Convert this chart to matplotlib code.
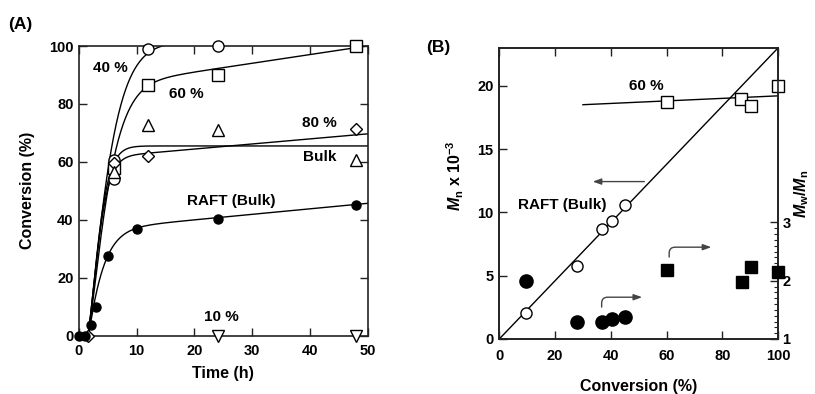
import numpy as np
import matplotlib
matplotlib.use("Agg")
import matplotlib.pyplot as plt
from matplotlib.ticker import MultipleLocator

plt.rcParams['font.family'] = ['Liberation Sans', 'DejaVu Sans']
plt.rcParams['font.weight'] = 'bold'
plt.rcParams['axes.labelweight'] = 'bold'
plt.rcParams['mathtext.fontset'] = 'custom'
plt.rcParams['mathtext.it'] = 'Liberation Sans:italic:bold'
plt.rcParams['mathtext.rm'] = 'Liberation Sans:bold'

# ---------------- Panel A data: conversion (%) vs time (h) ----------------
t_40 = [6, 12, 24]
c_40 = [54, 98.9, 100]
t_40b = [6]
c_40b = [60.5]
t_60 = [6, 12, 24, 48]
c_60 = [58, 86.4, 89.9, 100]
t_80 = [1.5, 6, 12, 48]
c_80 = [0, 59.5, 62.1, 71.5]
t_bulk = [6, 12, 24, 48]
c_bulk = [56.5, 72.7, 71.0, 60.6]
t_10 = [24, 48]
c_10 = [0, 0]
t_raft = [0, 1, 2, 3, 5, 10, 24, 48]
c_raft = [0, 0, 3.8, 9.8, 27.6, 36.9, 40.3, 45.0]

# fitted curves: c = A*(1-exp(-(k*(t-t0))^n)) + B*(t-t0)
fit_params = {
    '40': dict(A=101.5, k=0.245, n=1.25, B=0.0, t0=1.5),
    '60': dict(A=85.5, k=0.254, n=1.3, B=0.3, t0=1.5),
    '80': dict(A=61.2, k=0.42, n=1.4, B=0.175, t0=1.5),
    'bulk': dict(A=65.5, k=0.41, n=1.4, B=0.0, t0=1.5),
    'raft': dict(A=36.5, k=0.384, n=1.1, B=0.19, t0=1.6),
}

# ---------------- Panel B data ----------------
x_raft = [9.5, 27.9, 37.0, 40.3, 45.0]
mn_raft = [2.08, 5.77, 8.72, 9.35, 10.6]
pdi_raft = [1.99, 1.29, 1.30, 1.34, 1.37]
x_60 = [60.2, 86.6, 90.2, 100]
mn_60 = [18.71, 18.95, 18.42, 20.0]
x_60p = [60.0, 86.9, 90.1, 100]
pdi_60 = [2.19, 1.97, 2.24, 2.15]
theory_x = [0, 100]
theory_mn = [0, 23]
fit60_x = [30, 100]
fit60_mn = [18.5, 19.2]

fig = plt.figure(figsize=(8.15, 3.94), dpi=100)
axA = fig.add_axes([0.0969, 0.148, 0.3543, 0.7352])
axB = fig.add_axes([0.6126, 0.1396, 0.3423, 0.7393])

spine_c = '#222222'
line_kw = dict(color='black', lw=1.0)
tick_fs = 10.5

def curve(p, t):
    dt = np.clip(t - p['t0'], 0, None)
    return p['A'] * (1 - np.exp(-(p['k'] * dt) ** p['n'])) + p['B'] * dt

tt = np.linspace(1.5, 50, 600)
for key, p in fit_params.items():
    axA.plot(tt, curve(p, tt), **line_kw)

mk_open = dict(mfc='white', mec='black', mew=1.0, ls='none', clip_on=False, zorder=5)
axA.plot(t_40, c_40, 'o', ms=8, **mk_open)
axA.plot(t_40b, c_40b, 'o', ms=8, **mk_open)
axA.plot(t_60, c_60, 's', ms=8, **mk_open)
axA.plot(t_80, c_80, 'D', ms=6.5, **mk_open)
axA.plot(t_bulk, c_bulk, '^', ms=8, **mk_open)
axA.plot(t_10, c_10, 'v', ms=8, **mk_open)
axA.plot(t_raft, c_raft, 'o', ms=6.5, mfc='black', mec='black', ls='none',
         clip_on=False, zorder=6)

axA.set_xlim(0, 50)
axA.set_ylim(0, 100)
axA.xaxis.set_major_locator(MultipleLocator(10))
axA.yaxis.set_major_locator(MultipleLocator(20))
axA.tick_params(direction='in', top=True, right=True, length=6, width=1.0,
                labelsize=tick_fs, pad=4, color=spine_c)
axA.tick_params(axis='x', pad=6)
axA.set_xlabel('Time (h)', fontsize=11.5, labelpad=6)
axA.set_ylabel('Conversion (%)', fontsize=11.5, labelpad=10)
for s in axA.spines.values():
    s.set_linewidth(1.2)
    s.set_color(spine_c)

txt_kw = dict(fontsize=11, fontweight='bold', ha='center', va='center')
axA.text(5.4, 92.3, '40 %', **txt_kw)
axA.text(18.65, 83.3, '60 %', **txt_kw)
axA.text(41.7, 73.3, '80 %', **txt_kw)
axA.text(41.7, 61.8, 'Bulk', **txt_kw)
axA.text(26.4, 46.6, 'RAFT (Bulk)', **txt_kw)
axA.text(24.7, 6.4, '10 %', **txt_kw)

fig.text(0.025, 0.937, '(A)', fontsize=12.5, fontweight='bold', ha='center', va='center')
fig.text(0.538, 0.879, '(B)', fontsize=12.5, fontweight='bold', ha='center', va='center')

# ---------------- Panel B ----------------
axB.plot(theory_x, theory_mn, **line_kw)
axB.plot(fit60_x, fit60_mn, **line_kw)
axB.plot(x_raft, mn_raft, 'o', ms=8, **mk_open)
axB.plot(x_60, mn_60, 's', ms=8, **mk_open)
axB.set_xlim(0, 100)
axB.set_ylim(0, 23)
axB.xaxis.set_major_locator(MultipleLocator(20))
axB.yaxis.set_major_locator(MultipleLocator(5))
axB.tick_params(direction='in', top=True, right=False, length=6, width=1.0,
                labelsize=tick_fs, pad=4, color=spine_c)
axB.tick_params(axis='x', pad=7)
axB.set_xlabel('Conversion (%)', fontsize=11.5, labelpad=12)
axB.set_ylabel(r'$\mathit{M}_{\mathrm{n}}$ x 10$^{-3}$', fontsize=11.5)
axB.yaxis.set_label_coords(-0.118, 0.56)
for s in axB.spines.values():
    s.set_linewidth(1.2)
    s.set_color(spine_c)

axR = axB.twinx()
axR.plot(x_raft, pdi_raft, 'o', ms=9.5, mfc='black', mec='black', ls='none',
         clip_on=False, zorder=6)
axR.plot(x_60p, pdi_60, 's', ms=8.5, mfc='black', mec='black', ls='none',
         clip_on=False, zorder=6)
axR.set_ylim(1, 6)
axR.set_yticks([1, 2, 3])
axR.set_yticks(np.arange(1, 3.01, 0.1), minor=True)
axR.tick_params(which='major', direction='in', length=6, width=1.0,
                labelsize=tick_fs, pad=3, color=spine_c)
axR.tick_params(which='minor', direction='in', length=3, width=0.8, color=spine_c)
axR.set_ylabel(r'$\mathit{M}_{\mathrm{w}}$/$\mathit{M}_{\mathrm{n}}$', fontsize=11.5,
               labelpad=1)
for s in axR.spines.values():
    s.set_linewidth(1.2)
    s.set_color(spine_c)

tb = dict(fontsize=11, fontweight='bold', ha='center', va='center')
axB.text(52.8, 19.95, '60 %', **tb)
axB.text(22.4, 10.6, 'RAFT (Bulk)', **tb)

arrow_c = '#444444'
ap = '-|>,head_length=0.5,head_width=0.18'
axB.annotate('', xy=(32.5, 12.43), xytext=(53, 12.43),
             arrowprops=dict(arrowstyle=ap, color=arrow_c, lw=1.0))
axB.annotate('', xy=(52.2, 3.3), xytext=(36.7, 2.3),
             arrowprops=dict(arrowstyle=ap, color=arrow_c, lw=1.0,
                             connectionstyle='angle,angleA=90,angleB=0,rad=6'))
axB.annotate('', xy=(77.0, 7.25), xytext=(60.9, 6.25),
             arrowprops=dict(arrowstyle=ap, color=arrow_c, lw=1.0,
                             connectionstyle='angle,angleA=90,angleB=0,rad=6'))

fig.savefig('out.png', dpi=100)
